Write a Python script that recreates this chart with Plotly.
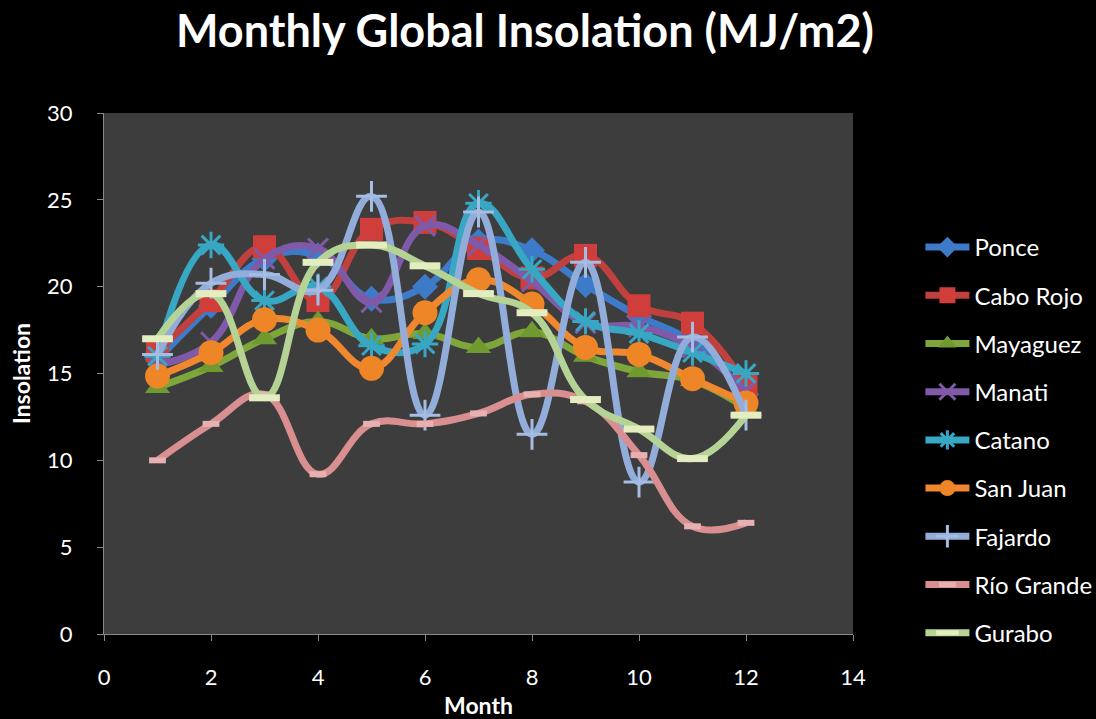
import plotly.graph_objects as go

months = [1, 2, 3, 4, 5, 6, 7, 8, 9, 10, 11, 12]

ponce     = [15.8, 18.9, 21.6, 21.8, 19.3, 20.0, 22.6, 22.1, 20.1, 18.3, 16.8, 13.8]
cabo_rojo = [16.3, 19.2, 22.3, 19.2, 23.3, 23.7, 22.2, 20.5, 21.8, 18.9, 17.9, 14.3]
mayaguez  = [14.2, 15.4, 17.0, 18.0, 17.0, 17.3, 16.5, 17.4, 16.0, 15.1, 14.6, 13.0]
manati    = [15.5, 16.8, 21.6, 22.2, 19.1, 23.5, 22.4, 20.3, 17.9, 17.7, 16.5, 14.0]
catano    = [16.0, 22.4, 19.2, 20.0, 16.6, 16.7, 24.8, 21.0, 18.0, 17.3, 16.2, 15.0]
san_juan  = [14.85, 16.2, 18.1, 17.5, 15.3, 18.5, 20.4, 19.0, 16.5, 16.1, 14.7, 13.3]
fajardo   = [16.1, 20.2, 20.7, 19.8, 25.2, 12.6, 24.3, 11.5, 21.4, 8.75, 17.1, 12.6]
rio_grande = [10.0, 12.1, 13.8, 9.2, 12.1, 12.1, 12.7, 13.8, 13.4, 10.3, 6.2, 6.4]
gurabo    = [17.0, 19.6, 13.6, 21.4, 22.4, 21.2, 19.6, 18.5, 13.5, 11.8, 10.1, 12.6]

series = [
    ("Ponce", ponce, "#3D7BC8", dict(symbol="diamond", size=20, color="#3D7BC8")),
    ("Cabo Rojo", cabo_rojo, "#C0403D", dict(symbol="square", size=23, color="#D03E3B")),
    ("Mayaguez", mayaguez, "#7FA63A", dict(symbol="triangle-up", size=22, color="#6E9A2F")),
    ("Manati", manati, "#7F5AA8", dict(symbol="x-thin", size=20, color="#7F5AA8", line=dict(width=3, color="#7F5AA8"))),
    ("Catano", catano, "#37A7C3", dict(symbol="asterisk", size=22, color="#37A7C3", line=dict(width=3, color="#37A7C3"))),
    ("San Juan", san_juan, "#F0882F", dict(symbol="circle", size=25, color="#EE8526")),
    ("Fajardo", fajardo, "#93ADDA", dict(symbol="cross-thin", size=22, color="#A5BCE3", line=dict(width=3, color="#A5BCE3"))),
    ("Río Grande", rio_grande, "#D98F8F", dict(symbol="line-ew", size=12, color="#E8B0B0", line=dict(width=6, color="#E8B0B0"))),
    ("Gurabo", gurabo, "#B5D394", dict(symbol="line-ew", size=22, color="#E4EDC0", line=dict(width=7, color="#E4EDC0"))),
]

fig = go.Figure()
for name, vals, col, mk in series:
    fig.add_trace(go.Scatter(
        x=months, y=vals, name=name, mode="lines+markers",
        line=dict(color=col, width=7, shape="spline", smoothing=1.2),
        marker=mk, legendgroup=name,
    ))

fig.update_layout(
    width=1096, height=719,
    paper_bgcolor="black", plot_bgcolor="#3D3D3D",
    margin=dict(l=104, r=243, t=113, b=85, autoexpand=False),
    font=dict(family="Lato, Open Sans, sans-serif", color="white", size=20),
    title=dict(text="<b>Monthly Global Insolation (MJ/m2)</b>", x=0.479, xanchor="center",
               y=0.957, yanchor="middle", font=dict(size=45, color="white")),
    showlegend=True,
    legend=dict(x=1.09, xanchor="left", y=0.785, yanchor="top",
                font=dict(size=24, color="white"), tracegroupgap=14,
                bgcolor="rgba(0,0,0,0)", itemwidth=44),
)
fig.update_xaxes(range=[0, 14], dtick=2, showgrid=False, zeroline=False,
                 showline=True, linecolor="#8A8A8A", linewidth=1,
                 ticks="outside", ticklen=6, tickcolor="#8A8A8A",
                 ticklabelstandoff=18, tickfont=dict(size=22), automargin=False,
                 title=dict(text="<b>Month</b>", font=dict(size=23), standoff=8))
fig.update_yaxes(range=[0, 30], dtick=5, showgrid=False, zeroline=False,
                 showline=True, linecolor="#8A8A8A", linewidth=1,
                 ticks="outside", ticklen=6, tickcolor="#8A8A8A",
                 ticklabelstandoff=20, tickfont=dict(size=22), automargin=False,
                 title=dict(text="<b>Insolation</b>", font=dict(size=23), standoff=10))

fig.write_html("out.html", config={"displayModeBar": False},
               post_script="document.body.style.margin='0';document.body.style.background='black';")
